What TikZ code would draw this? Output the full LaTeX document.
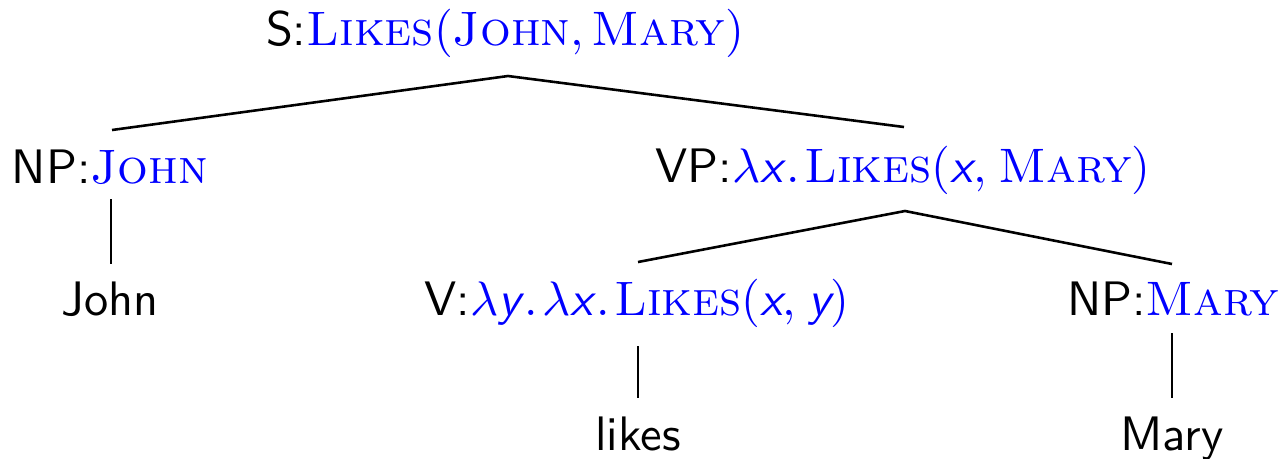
\documentclass[tikz,border=0pt]{standalone}
\usepackage{amsmath}
\newcommand{\sx}{\mbox{\sffamily\itshape x}}
\newcommand{\sy}{\mbox{\sffamily\itshape y}}
\newcommand{\dotp}{\mkern1.5mu.\mkern1.5mu}
\newcommand{\sem}[1]{\textcolor{sem}{$#1$}}
\definecolor{sem}{RGB}{0,0,255}
\begin{document}
\begin{tikzpicture}[x=0.2128pt,y=-0.2128pt,
  lab/.style={anchor=base,inner sep=0pt,font=\sffamily,scale=1.03},
  edge/.style={line width=0.55pt,black}]
\useasboundingbox (0,0) rectangle (1283,458);
% nodes
\node[lab] (S) at (505,45) {S:\sem{\textsc{Likes}(\textsc{John},\textsc{Mary})}};
\node[lab] (NP1) at (110,183) {NP:\sem{\textsc{John}}};
\node[lab] (VP) at (903,182) {VP:\sem{\lambda\sx\dotp\textsc{Likes}(\sx,\mkern1.5mu\textsc{Mary})}};
\node[lab] (John) at (110,315) {John};
\node[lab] (V) at (637,315) {V:\sem{\lambda\sy\dotp\lambda\sx\dotp\textsc{Likes}(\sx,\mkern1.5mu\sy)}};
\node[lab] (NP2) at (1173,315) {NP:\sem{\textsc{Mary}}};
\node[lab] (likes) at (638,450) {likes};
\node[lab] (Mary) at (1172,450) {Mary};
% connector ends
\coordinate (S-b) at (508,76);
\coordinate (NP1-t) at (112,130);
\coordinate (VP-t) at (904,127);
\coordinate (NP1-b) at (111,199);
\coordinate (John-t) at (111,264);
\coordinate (VP-b) at (905,211);
\coordinate (V-t) at (638,262);
\coordinate (NP2-t) at (1172,264);
\coordinate (V-b) at (638,346);
\coordinate (likes-t) at (638,398);
\coordinate (NP2-b) at (1172,333);
\coordinate (Mary-t) at (1172,398);
% connectors
\draw[edge] (NP1-t) -- (S-b) -- (VP-t);
\draw[edge] (NP1-b) -- (John-t);
\draw[edge] (V-t) -- (VP-b) -- (NP2-t);
\draw[edge] (V-b) -- (likes-t);
\draw[edge] (NP2-b) -- (Mary-t);
\end{tikzpicture}
\end{document}
